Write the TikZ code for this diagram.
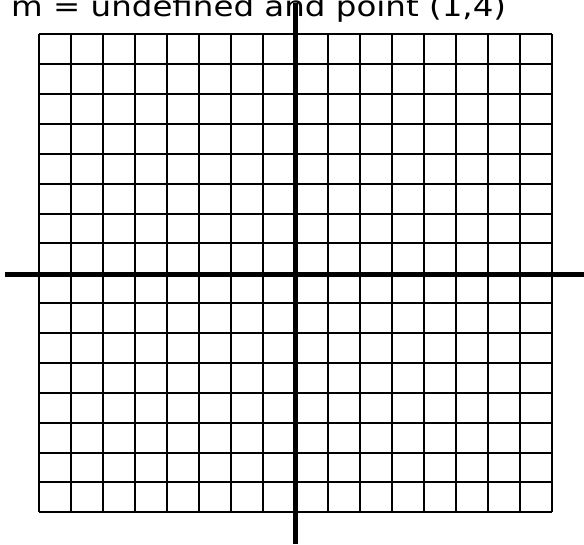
\documentclass[tikz,border=0pt]{standalone}
\usepackage{fontspec}
\setmainfont{DejaVu Sans}
\begin{document}
\begin{tikzpicture}[x=1pt,y=-1pt,
  gridline/.style={line width=2pt,black},
  axisline/.style={line width=5pt,black}]
\useasboundingbox (0,0) rectangle (584,544);
\fill[white] (0,0) rectangle (584,544);
\foreach \i in {0,...,16}{
  \draw[gridline] ({39.3+32.025*\i},34.3) -- ({39.3+32.025*\i},512.3);
  \draw[gridline] (39.3,{34.3+29.875*\i}) -- (551.7,{34.3+29.875*\i});
}
\draw[axisline] (5,274.5) -- (584,274.5);
\draw[axisline] (295.5,3) -- (295.5,544);
\node[anchor=base west,inner sep=0pt,xscale=1.16,font=\fontsize{28}{30}\selectfont] (title) at (11,16.7) {m = undefined and point (1,4)};
\end{tikzpicture}
\end{document}
